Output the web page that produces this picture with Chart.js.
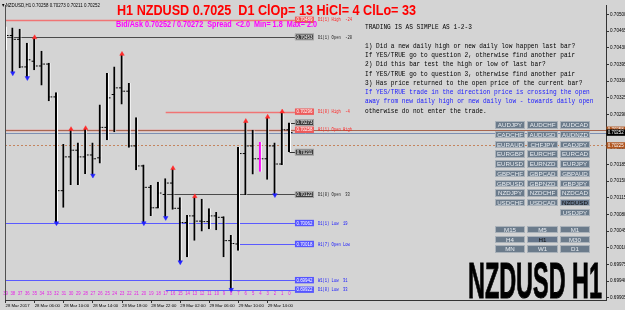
<!DOCTYPE html>
<html lang="en">
<head>
<meta charset="UTF-8">
<title>NZDUSD H1</title>
<script src="https://cdn.jsdelivr.net/npm/chart.js@4/dist/chart.umd.min.js"></script>
<style>
    html, body { margin: 0; padding: 0; background: #d4d4d4; }
    #wrap { position: relative; width: 625px; height: 310px; overflow: hidden; }
    #chart { position: absolute; left: 0; top: 0; }
    .txt { position: absolute; white-space: pre; transform-origin: 0 0; margin: 0; }
    #head { left: 1.7px; top: 2px; font: 5.5px/6px "Liberation Sans", sans-serif; color: #000; }
    #title { left: 117px; top: 2.3px; font: bold 15px/15px "Liberation Sans", sans-serif; color: #ff0000; }
    #spread { left: 116px; top: 20.3px; font: bold 8.5px/8.5px "Liberation Sans", sans-serif; color: #ff00ff; }
    #rules { left: 365px; top: 23.3px; font: 7px/9.25px "Liberation Mono", monospace; color: #000; }
    #rules .blue { color: #1a1aff; }
    #big { left: 468px; top: 255.7px; font: bold 50px/50px "Liberation Sans Narrow", "Liberation Sans", sans-serif;
           color: #000; -webkit-text-stroke: 1px #000; text-shadow: 0 0 1px #fff; }
    .grid { position: absolute; display: grid; grid-template-columns: repeat(3, 30.7px);
            column-gap: 1.8px; row-gap: 2.3px; grid-auto-rows: 7.4px; }
    .btn { box-sizing: border-box; background: #6b7b8b; border: 1px solid #aab2ba; color: #e8ecf0;
           font: 6.2px/5.4px "Liberation Sans", sans-serif; text-align: center; }
    .btn.on { color: #111; background: #65758a; }
</style>
</head>
<body>
<div id="wrap">
    <canvas id="chart" width="625" height="310"></canvas>
    <div id="head" class="txt" data-w="98"></div>
    <div id="title" class="txt" data-w="299">H1 NZDUSD 0.7025  D1 ClOp= 13 HiCl= 4 ClLo= 33</div>
    <div id="spread" class="txt" data-w="201">Bid/Ask 0.70252 / 0.70272  Spread  &lt;2.0  Min= 1.8  Max= 2.0</div>
    <div id="rules" class="txt" data-w="228.5"></div>
    <div id="pairs" class="grid" style="left:494.7px; top:121.4px;"></div>
    <div id="periods" class="grid" style="left:494.7px; top:226px;"></div>
    <div id="big" class="txt" data-w="134">NZDUSD H1</div>
</div>

<script>
    // bar shift numbers (39 = oldest visible bar, 0 = current bar)
    const shifts = [39, 38, 37, 36, 35, 34, 33, 32, 31, 30, 29, 28, 27, 26, 25, 24, 23, 22, 21, 20,
                    19, 18, 17, 16, 15, 14, 13, 12, 11, 10, 9, 8, 7, 6, 5, 4, 3, 2, 1, 0];
    const opens  = [0.70468, 0.70456, 0.70448, 0.70390, 0.70402, 0.70392, 0.70396, 0.70327, 0.70130, 0.70201,
                    0.70215, 0.70201, 0.70205, 0.70199, 0.70263, 0.70332, 0.70346, 0.70339, 0.70224, 0.70182,
                    0.70137, 0.70094, 0.70122, 0.70146, 0.70093, 0.70063, 0.70077, 0.70066, 0.70065, 0.70077,
                    0.70074, 0.70025, 0.70018, 0.70208, 0.70224, 0.70197, 0.70197, 0.70224, 0.70186, 0.70258];
    const highs  = [0.70475, 0.70473, 0.70470, 0.70441, 0.70452, 0.70424, 0.70399, 0.70337, 0.70228, 0.70259,
                    0.70231, 0.70261, 0.70231, 0.70311, 0.70377, 0.70391, 0.70417, 0.70356, 0.70284, 0.70185,
                    0.70142, 0.70149, 0.70156, 0.70177, 0.70116, 0.70079, 0.70118, 0.70113, 0.70093, 0.70085,
                    0.70076, 0.70037, 0.70222, 0.70276, 0.70258, 0.70232, 0.70285, 0.70231, 0.70296, 0.70273];
    const lows   = [0.70425, 0.70377, 0.70387, 0.70367, 0.70383, 0.70351, 0.70318, 0.70062, 0.70094, 0.70142,
                    0.70142, 0.70165, 0.70162, 0.70187, 0.70236, 0.70253, 0.70311, 0.70220, 0.70173, 0.70062,
                    0.70077, 0.70093, 0.70073, 0.70090, 0.69980, 0.69990, 0.70025, 0.70044, 0.70049, 0.70047,
                    0.69990, 0.69922, 0.70004, 0.70121, 0.70164, 0.70170, 0.70153, 0.70121, 0.70184, 0.70211];
    const closes = [0.70456, 0.70448, 0.70390, 0.70405, 0.70392, 0.70396, 0.70327, 0.70130, 0.70201, 0.70215,
                    0.70201, 0.70205, 0.70197, 0.70263, 0.70325, 0.70346, 0.70339, 0.70224, 0.70182, 0.70137,
                    0.70094, 0.70125, 0.70146, 0.70093, 0.70063, 0.70077, 0.70066, 0.70065, 0.70077, 0.70074,
                    0.70025, 0.70019, 0.70208, 0.70224, 0.70197, 0.70197, 0.70224, 0.70186, 0.70258, 0.70252];

    // swing markers
    const upArrowBars   = [35, 30, 28, 23, 16, 13, 6, 3, 1];
    const downArrowBars = [38, 36, 32, 27, 20, 17, 15, 8, 2];

    // daily / weekly levels
    const levelNames   = ['D1(1) High  -24', 'D1(1) Open  -20', 'D1(0) High  -4', 'H1(1) Open High', 'D1(0) Open  33',
                          'D1(1) Low  19', 'H1(7) Open Low', 'W1(1) Low  31', 'D1(0) Low  33'];
    const levelPrices  = [0.70489, 0.70453, 0.70296, 0.70258, 0.70122, 0.70062, 0.70018, 0.69942, 0.69922];
    const levelFromBar = [39, 39, 17, 39, 17, 39, 7, 39, 17];

    const bidPrice = 0.70252;
    const openHighPrice = 0.70258;
    const dottedPrice = 0.70225;

    // axes
    const priceTicks = [0.69905, 0.69940, 0.69975, 0.70010, 0.70045, 0.70080, 0.70115, 0.70150, 0.70185,
                        0.70220, 0.70255, 0.70290, 0.70325, 0.70360, 0.70395, 0.70430, 0.70465, 0.70500];
    const timeTickBars = [39, 35, 31, 27, 23, 19, 15, 11, 7, 3];
    const timeLabels = ['28 Mar 2017', '28 Mar 06:00', '28 Mar 10:00', '28 Mar 14:00', '28 Mar 18:00',
                        '28 Mar 22:00', '29 Mar 02:00', '29 Mar 06:00', '29 Mar 10:00', '29 Mar 14:00'];

    const symbols = ['AUDJPY', 'AUDCHF', 'AUDCAD', 'CADCHF', 'AUDUSD', 'AUDNZD', 'EURAUD', 'CHFJPY', 'CADJPY',
                     'EURGBP', 'EURCHF', 'EURCAD', 'EURUSD', 'EURNZD', 'EURJPY', 'GBPCHF', 'GBPCAD', 'GBPAUD',
                     'GBPUSD', 'GBPNZD', 'GBPJPY', 'NZDJPY', 'NZDCHF', 'NZDCAD', 'USDCHF', 'USDCAD', 'NZDUSD',
                     '', '', 'USDJPY'];
    const periods = ['M15', 'M5', 'M1', 'H4', 'H1', 'M30', 'MN', 'W1', 'D1'];
    const rules = [
        ['TRADING IS AS SIMPLE AS 1-2-3', 0],
        ['', 0],
        ['1) Did a new daily high or new daily low happen last bar?', 0],
        ['If YES/TRUE go to question 2, otherwise find another pair', 0],
        ['2) Did this bar test the high or low of last bar?', 0],
        ['If YES/TRUE go to question 3, otherwise find another pair', 0],
        ['3) Has price returned to the open price of the current bar?', 0],
        ['If YES/TRUE trade in the direction price is crossing the open', 1],
        ['away from new daily high or new daily low - towards daily open', 1],
        ['otherwise do not enter the trade.', 0]
    ];

    const last = shifts.length - 1;
    const oldest = shifts[0];
    const fmt = v => v.toFixed(5);
    const pos = n => oldest - n;   // shift number -> position on the time axis

    // ---- text overlays ----
    document.getElementById('head').textContent =
        '\u25BE NZDUSD,H1 ' + [opens[last], highs[last], lows[last], closes[last]].map(fmt).join(' ');
    document.getElementById('rules').innerHTML = rules
        .map(r => '<span class="' + (r[1] ? 'blue' : '') + '">' + (r[0] || ' ') + '</span>').join('\n');

    function fillGrid(id, list, selected) {
        const box = document.getElementById(id);
        list.forEach(name => {
            const d = document.createElement('div');
            if (name) {
                d.className = 'btn' + (name === selected ? ' on' : '');
                d.textContent = name;
            }
            box.appendChild(d);
        });
    }
    fillGrid('pairs', symbols, 'NZDUSD');
    fillGrid('periods', periods, 'H1');

    document.querySelectorAll('[data-w]').forEach(el => {
        const w = el.getBoundingClientRect().width;
        el.style.transform = 'scaleX(' + (el.dataset.w / w) + ')';
    });

    // ---- chart helpers ----
    function tinyText(ctx, str, x, y, font, color, sx, align) {
        ctx.save();
        ctx.translate(x, y);
        ctx.scale(sx, 1);
        ctx.font = font;
        ctx.fillStyle = color;
        ctx.textBaseline = 'middle';
        ctx.textAlign = align || 'left';
        ctx.fillText(str, 0, 0);
        ctx.restore();
    }

    function priceBox(ctx, x, yy, w, bg, text, edge) {
        ctx.fillStyle = bg;
        ctx.fillRect(x, yy - 3.2, w, 6.4);
        if (edge) {
            ctx.strokeStyle = edge;
            ctx.lineWidth = 0.7;
            ctx.strokeRect(x + 0.35, yy - 2.85, w - 0.7, 5.7);
        }
        tinyText(ctx, text, x + w / 2, yy + 0.3, '5px "Liberation Sans"', '#ffffff', 0.88, 'center');
    }

    function levelColors(name) {
        if (/High$/.test(name) || / High /.test(name)) return { line: '#f07474', box: '#ee5a5a', text: '#ff2020' };
        if (/Low/.test(name)) return { line: '#5a5aff', box: '#5555ff', text: '#1414ff' };
        return { line: '#4a4a4a', box: '#3c3c3c', text: '#202020' };
    }

    const overlay = {
        id: 'overlay',
        beforeDatasetsDraw(chart) {
            const { ctx, chartArea: a, scales: { x, y } } = chart;
            const boxX = x.getPixelForValue(pos(0) + 0.75);
            ctx.save();
            ctx.beginPath();
            ctx.rect(a.left, a.top, a.right - a.left, a.bottom - a.top);
            ctx.clip();

            levelPrices.forEach((p, i) => {
                const yy = Math.round(y.getPixelForValue(p)) + 0.5;
                const x0 = levelFromBar[i] >= oldest ? a.left : x.getPixelForValue(pos(levelFromBar[i]));
                const c = levelColors(levelNames[i]);
                ctx.strokeStyle = c.line;
                ctx.lineWidth = c.line === '#f07474' ? 1.4 : 1;
                ctx.beginPath();
                ctx.moveTo(x0, yy);
                ctx.lineTo(boxX, yy);
                ctx.stroke();
            });

            const full = (p, color, dash) => {
                const yy = Math.round(y.getPixelForValue(p)) + 0.5;
                ctx.strokeStyle = color;
                ctx.lineWidth = 1;
                ctx.setLineDash(dash);
                ctx.beginPath();
                ctx.moveTo(a.left, yy);
                ctx.lineTo(a.right, yy);
                ctx.stroke();
                ctx.setLineDash([]);
            };
            full(openHighPrice, '#a86650', []);
            full(bidPrice, '#7d8fb2', []);
            full(dottedPrice, '#c4845e', [2, 2]);

            // connectors from the current bar to its high/low labels
            const bx = x.getPixelForValue(pos(0));
            ctx.strokeStyle = '#303030';
            [highs[last], lows[last]].forEach(p => {
                const yy = Math.round(y.getPixelForValue(p)) + 0.5;
                ctx.beginPath();
                ctx.moveTo(bx, yy);
                ctx.lineTo(boxX, yy);
                ctx.stroke();
            });
            ctx.restore();
        },
        afterDatasetsDraw(chart) {
            const { ctx, chartArea: a, scales: { x, y } } = chart;
            const boxX = x.getPixelForValue(pos(0) + 0.75);
            ctx.save();
            levelPrices.forEach((p, i) => {
                const yy = y.getPixelForValue(p);
                const c = levelColors(levelNames[i]);
                priceBox(ctx, boxX, yy, 19, c.box, fmt(p), c.box === '#3c3c3c' ? '#c8c8c8' : null);
                tinyText(ctx, levelNames[i], boxX + 23, yy + 0.3, '5px "Liberation Mono"', c.text, 0.76);
            });
            [highs[last], lows[last]].forEach(p => {
                priceBox(ctx, boxX, y.getPixelForValue(p), 19, '#3c3c3c', fmt(p), '#c8c8c8');
            });

            // bar numbers
            shifts.forEach(n => {
                tinyText(ctx, String(n), x.getPixelForValue(pos(n)), 293.3, '5px "Liberation Sans"', '#e61ee6', 0.85, 'center');
            });

            // left frame
            ctx.strokeStyle = '#505050';
            ctx.lineWidth = 1;
            ctx.beginPath();
            ctx.moveTo(a.left + 0.5, a.top);
            ctx.lineTo(a.left + 0.5, a.bottom);
            ctx.stroke();
            ctx.restore();
        },
        afterDraw(chart) {
            const { ctx, chartArea: a, scales: { y } } = chart;
            ctx.save();
            priceBox(ctx, a.right + 0.5, y.getPixelForValue(openHighPrice), 18.5, '#b0551f', fmt(openHighPrice));
            priceBox(ctx, a.right + 0.5, y.getPixelForValue(bidPrice), 18.5, '#000000', fmt(bidPrice));
            priceBox(ctx, a.right + 0.5, y.getPixelForValue(dottedPrice), 18.5, '#b0551f', fmt(dottedPrice));
            ctx.restore();
        }
    };

    Chart.defaults.font.family = '"Liberation Sans", Arial, sans-serif';
    Chart.defaults.color = '#000';

    const barColors = shifts.map((n, i) => opens[i] === closes[i] ? '#ff00ff' : '#000000');

    new Chart(document.getElementById('chart'), {
        type: 'bar',
        data: {
            datasets: [{
                type: 'bar',
                data: shifts.map((n, i) => ({ x: pos(n), y: [lows[i], highs[i]] })),
                backgroundColor: barColors,
                borderColor: '#ffffff',
                borderWidth: { right: 1 },
                borderSkipped: false,
                barThickness: 3,
                inflateAmount: 0,
                order: 1
            }, {
                type: 'scatter',
                data: shifts.map((n, i) => ({ x: pos(n) - 0.2, y: opens[i] })),
                pointStyle: 'line',
                radius: 1.6,
                borderWidth: 1,
                borderColor: '#000',
                order: 2
            }, {
                type: 'scatter',
                data: shifts.map((n, i) => ({ x: pos(n) + 0.2, y: closes[i] })),
                pointStyle: 'line',
                radius: 1.6,
                borderWidth: 1,
                borderColor: '#000',
                order: 2
            }, {
                type: 'scatter',
                data: upArrowBars.map(n => ({ x: pos(n), y: highs[shifts.indexOf(n)] })),
                pointStyle: 'triangle',
                radius: 2.6,
                backgroundColor: '#ff2a2a',
                borderColor: '#ff2a2a',
                borderWidth: 0.5,
                order: 0
            }, {
                type: 'scatter',
                data: downArrowBars.map(n => ({ x: pos(n), y: lows[shifts.indexOf(n)] })),
                pointStyle: 'triangle',
                rotation: 180,
                radius: 2.6,
                backgroundColor: '#2222ff',
                borderColor: '#2222ff',
                borderWidth: 0.5,
                order: 0
            }]
        },
        options: {
            responsive: false,
            animation: false,
            devicePixelRatio: 1,
            events: [],
            layout: { padding: { left: 1, top: 1, right: 0, bottom: 0 } },
            plugins: { legend: { display: false }, tooltip: { enabled: false } },
            scales: {
                x: {
                    type: 'linear',
                    offset: false,
                    min: -0.07,
                    max: 82.47,
                    afterBuildTicks: s => { s.ticks = timeTickBars.map(n => ({ value: pos(n) })); },
                    afterFit: s => { s.height = 10; s.paddingLeft = 0; s.paddingRight = 0; },
                    ticks: {
                        autoSkip: false, maxRotation: 0, minRotation: 0, align: 'start', padding: 0,
                        font: { size: 4.3 }, color: '#000',
                        callback: (v, i) => timeLabels[i]
                    },
                    grid: { offset: false, drawOnChartArea: false, tickLength: 3, color: '#333' },
                    border: { color: '#333' }
                },
                y: {
                    type: 'linear',
                    position: 'right',
                    min: 0.699003,
                    max: 0.705201,
                    afterBuildTicks: s => { s.ticks = priceTicks.map(v => ({ value: v })); },
                    afterFit: s => { s.width = 19; s.paddingTop = 0; s.paddingBottom = 0; },
                    ticks: { padding: 1, font: { size: 4.6 }, color: '#000', callback: v => fmt(v) },
                    grid: { drawOnChartArea: false, tickLength: 3, color: '#333' },
                    border: { color: '#333' }
                }
            }
        },
        plugins: [overlay]
    });
</script>
</body>
</html>
